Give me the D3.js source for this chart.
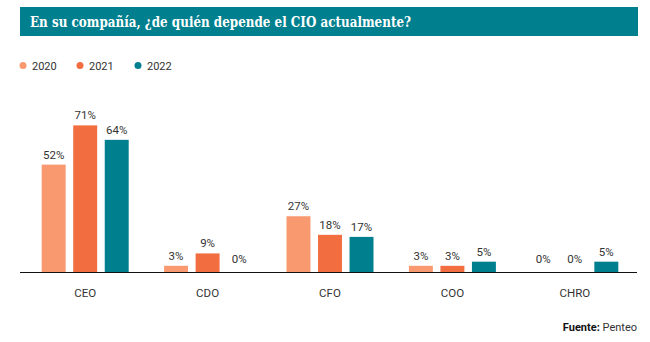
<!DOCTYPE html>
<html>
<head>
<meta charset="utf-8">
<script src="https://cdn.jsdelivr.net/npm/d3@7"></script>
<style>
  html, body { margin: 0; padding: 0; background: #fff; }
  svg { display: block; }
  .lbl { font-family: Roboto, sans-serif; font-size: 11.5px; fill: #333; }
</style>
</head>
<body>
<div id="chart"></div>
<script>
// reporting line of the CIO, % of companies per year
const roles = ['CEO', 'CDO', 'CFO', 'COO', 'CHRO'];
const years = ['2020', '2021', '2022'];
const v2020 = [52, 3, 27, 3, 0];
const v2021 = [71, 9, 18, 3, 0];
const v2022 = [64, 0, 17, 5, 5];
const colors = ['#f8996f', '#f26e41', '#007f8f'];

const width = 650, height = 342;
const svg = d3.select('#chart').append('svg')
  .attr('width', width)
  .attr('height', height);

// title banner
svg.append('rect')
  .attr('x', 20).attr('y', 7)
  .attr('width', 618).attr('height', 29)
  .attr('fill', '#007f8e');
svg.append('text')
  .attr('x', 30).attr('y', 27)
  .attr('fill', '#fff')
  .attr('textLength', 381)
  .attr('lengthAdjust', 'spacingAndGlyphs')
  .style('font-family', '"DejaVu Serif", serif')
  .style('font-weight', 'bold')
  .style('font-size', '14.5px')
  .text('En su compañía, ¿de quién depende el CIO actualmente?');

// legend
const legend = svg.append('g');
const legX = [23, 80, 138];
years.forEach((yr, i) => {
  legend.append('circle')
    .attr('cx', legX[i]).attr('cy', 65.5).attr('r', 3.5)
    .attr('fill', colors[i]);
  legend.append('text')
    .attr('class', 'lbl')
    .attr('x', legX[i] + 9).attr('y', 69.5)
    .style('font-size', '11px')
    .text(yr);
});

const x0 = d3.scaleBand().domain(roles).range([24, 636]);
const mid = x0.bandwidth() / 2;
const x1 = d3.scaleBand().domain(years).range([mid - 43.5, mid + 43.5]).paddingInner(0.24);
const y = d3.scaleLinear().domain([0, 100]).range([272, 65.5]);

const rows = roles.map((r, i) => ({
  role: r,
  vals: [v2020[i], v2021[i], v2022[i]].map((v, j) => ({ year: years[j], value: v, c: colors[j] }))
}));

const groups = svg.selectAll('g.grp')
  .data(rows)
  .enter().append('g')
  .attr('class', 'grp')
  .attr('transform', d => 'translate(' + x0(d.role) + ',0)');

groups.selectAll('rect')
  .data(d => d.vals)
  .enter().append('rect')
  .attr('x', d => x1(d.year))
  .attr('y', d => y(d.value))
  .attr('width', x1.bandwidth())
  .attr('height', d => y(0) - y(d.value))
  .attr('fill', d => d.c);

groups.selectAll('text.val')
  .data(d => d.vals)
  .enter().append('text')
  .attr('class', 'lbl val')
  .attr('x', d => x1(d.year) + x1.bandwidth() / 2)
  .attr('y', d => y(d.value) - (d.value === 0 ? 9 : 6))
  .attr('text-anchor', 'middle')
  .text(d => d.value + '%');

// baseline + category labels
svg.append('line')
  .attr('x1', 20).attr('x2', 637)
  .attr('y1', 272.5).attr('y2', 272.5)
  .attr('stroke', '#111').attr('stroke-width', 1.2);

svg.selectAll('text.cat')
  .data(roles)
  .enter().append('text')
  .attr('class', 'lbl cat')
  .attr('x', d => x0(d) + mid)
  .attr('y', 297)
  .attr('text-anchor', 'middle')
  .text(d => d);

// source
const src = svg.append('text')
  .attr('class', 'lbl')
  .attr('x', 637).attr('y', 331)
  .attr('text-anchor', 'end')
  .style('font-size', '11px');
src.append('tspan').style('font-weight', 'bold').style('fill', '#111').text('Fuente: ');
src.append('tspan').text('Penteo');
</script>
</body>
</html>
